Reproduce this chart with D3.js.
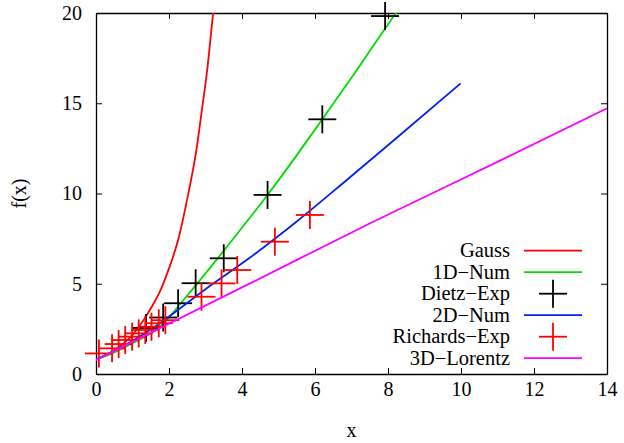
<!DOCTYPE html>
<html>
<head>
<meta charset="utf-8">
<script src="https://cdn.jsdelivr.net/npm/d3@7"></script>
<style>
  body { margin: 0; background: #fff; }
  svg { display: block; }
  text { font-family: "Liberation Serif", "DejaVu Serif", serif; fill: #000; }
</style>
</head>
<body>
<svg id="chart" width="624" height="443"></svg>
<script>
// ---- data ----
const xTicks = [0, 2, 4, 6, 8, 10, 12, 14];
const yTicks = [0, 5, 10, 15, 20];

const gaussX = [0, 0.5, 1.0, 1.42, 1.78, 2.0, 2.24, 2.54, 2.75, 2.9, 3.05, 3.21, 3.3];
const gaussY = [0.8, 1.32, 2.17, 3.36, 4.7, 5.85, 7.35, 10.1, 12.4, 14.6, 16.9, 20.0, 21.5];

const num1dX = [0, 0.5, 1.0, 1.75, 2.5, 3.95, 4.7, 6.2, 7.2, 8.22, 8.4];
const num1dY = [0.8, 1.2, 1.7, 2.62, 4.35, 7.98, 9.92, 14.11, 17.0, 20.0, 20.5];

const dietzX = [1.37, 1.84, 2.25, 2.73, 3.5, 4.7, 6.2, 7.92];
const dietzY = [2.55, 3.13, 3.92, 5.03, 6.41, 9.92, 14.11, 19.83];

const num2dX = [0, 0.75, 1.48, 3.0, 4.22, 5.5, 6.87, 8.33, 9.99];
const num2dY = [0.8, 1.55, 2.44, 4.7, 6.45, 8.45, 10.75, 13.24, 16.1];

const richX = [0.08, 0.44, 0.62, 0.80, 0.99, 1.17, 1.35, 1.52, 1.72, 1.90, 2.89, 3.44, 3.87, 4.90, 5.86];
const richY = [1.14, 1.42, 1.66, 1.88, 2.07, 2.25, 2.44, 2.62, 2.81, 2.98, 4.28, 5.02, 5.76, 7.33, 8.81];

const lorentzX = [0, 4.22, 7.51, 11.11, 14.0];
const lorentzY = [0.78, 5.02, 8.35, 11.86, 14.72];

const legendLabels = ["Gauss", "1D\u2212Num", "Dietz\u2212Exp", "2D\u2212Num", "Richards\u2212Exp", "3D\u2212Lorentz"];

// ---- layout ----
const svg = d3.select("#chart");
const L = 96, R = 607, T = 13, B = 374;
const x = d3.scaleLinear().domain([0, 14]).range([L, R]);
const y = d3.scaleLinear().domain([0, 20]).range([B, T]);

const zip = (xs, ys) => xs.map((v, i) => [v, ys[i]]);

svg.append("defs").append("clipPath").attr("id", "clip")
  .append("rect").attr("x", L).attr("y", T).attr("width", R - L).attr("height", B - T);

// axes with inward mirrored ticks
const fontSize = 20;
const tickLen = 6;
const gB = svg.append("g").attr("transform", `translate(0,${B})`)
  .call(d3.axisBottom(x).tickValues(xTicks).tickSizeInner(-tickLen).tickSizeOuter(0).tickPadding(8));
const gT = svg.append("g").attr("transform", `translate(0,${T})`)
  .call(d3.axisTop(x).tickValues(xTicks).tickSizeInner(-tickLen).tickSizeOuter(0).tickFormat(""));
const gL = svg.append("g").attr("transform", `translate(${L},0)`)
  .call(d3.axisLeft(y).tickValues(yTicks).tickSizeInner(-tickLen).tickSizeOuter(0).tickPadding(14));
const gR = svg.append("g").attr("transform", `translate(${R},0)`)
  .call(d3.axisRight(y).tickValues(yTicks).tickSizeInner(-tickLen).tickSizeOuter(0).tickFormat(""));

[gB, gT, gL, gR].forEach(g => {
  g.selectAll(".domain").attr("stroke", "#000").attr("stroke-width", 1.3);
  g.selectAll(".tick line").attr("stroke", "#000").attr("stroke-width", 1);
  g.selectAll("text").attr("font-family", "Liberation Serif").attr("font-size", fontSize).attr("fill", "#000");
});

// axis titles
svg.append("text").attr("x", (L + R) / 2).attr("y", 437).attr("text-anchor", "middle")
  .attr("font-size", fontSize).text("x");
svg.append("text").attr("transform", `translate(26,${(T + B) / 2}) rotate(-90)`)
  .attr("text-anchor", "middle").attr("font-size", fontSize).text("f(x)");

const line = d3.line().x(d => x(d[0])).y(d => y(d[1])).curve(d3.curveMonotoneX);
const plot = svg.append("g");
const lw = 1.8, arm = 14;

function drawLine(xs, ys, color) {
  plot.append("path").attr("clip-path", "url(#clip)")
    .attr("d", line(zip(xs, ys))).attr("fill", "none")
    .attr("stroke", color).attr("stroke-width", lw);
}
function drawCrosses(xs, ys, color) {
  const g = plot.append("g").attr("stroke", color).attr("stroke-width", lw);
  zip(xs, ys).forEach(d => {
    const cx = x(d[0]), cy = y(d[1]);
    g.append("line").attr("x1", cx - arm).attr("x2", cx + arm).attr("y1", cy).attr("y2", cy);
    g.append("line").attr("x1", cx).attr("x2", cx).attr("y1", cy - arm).attr("y2", cy + arm);
  });
}

// legend
const legX = 510, legY0 = 250.7, legDy = 21.5;
const legend = svg.append("g");
function legendEntry(i, color, kind) {
  const ly = legY0 + i * legDy;
  legend.append("text").attr("x", legX).attr("y", ly).attr("dy", "0.33em")
    .attr("text-anchor", "end").attr("font-size", 20.5).text(legendLabels[i]);
  if (kind === "line") {
    legend.append("line").attr("x1", 524).attr("x2", 582).attr("y1", ly).attr("y2", ly)
      .attr("stroke", color).attr("stroke-width", lw);
  } else {
    const cx = 553;
    legend.append("line").attr("x1", cx - arm).attr("x2", cx + arm).attr("y1", ly).attr("y2", ly)
      .attr("stroke", color).attr("stroke-width", lw);
    legend.append("line").attr("x1", cx).attr("x2", cx).attr("y1", ly - arm).attr("y2", ly + arm)
      .attr("stroke", color).attr("stroke-width", lw);
  }
}

const cRed = "#ff0000", cGreen = "#00dd00", cBlue = "#0022ee", cMag = "#ff00ff", cBlack = "#000000";

drawLine(gaussX, gaussY, cRed);          legendEntry(0, cRed, "line");
drawLine(num1dX, num1dY, cGreen);        legendEntry(1, cGreen, "line");
drawCrosses(dietzX, dietzY, cBlack);     legendEntry(2, cBlack, "cross");
drawLine(num2dX, num2dY, cBlue);         legendEntry(3, cBlue, "line");
drawCrosses(richX, richY, cRed);         legendEntry(4, cRed, "cross");
drawLine(lorentzX, lorentzY, cMag);      legendEntry(5, cMag, "line");
</script>
</body>
</html>
